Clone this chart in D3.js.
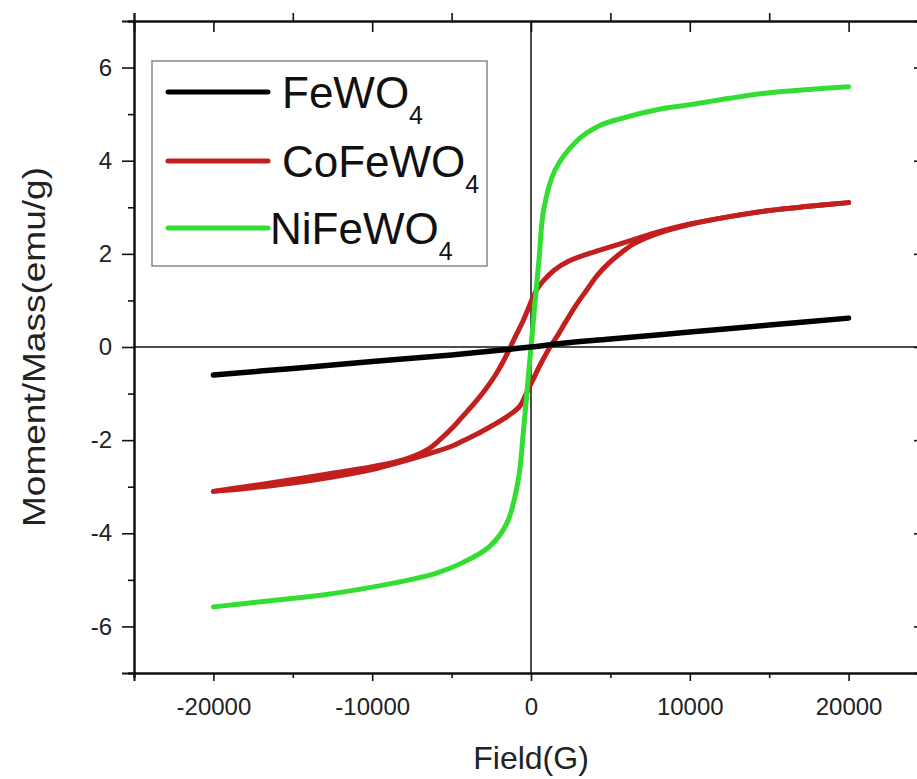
<!DOCTYPE html>
<html>
<head>
<meta charset="utf-8">
<script src="https://cdn.jsdelivr.net/npm/d3@7"></script>
<style>
  body { margin: 0; background: #fff; }
  svg { display: block; font-family: "Liberation Sans", Arial, sans-serif; }
</style>
</head>
<body>
<div id="chart"></div>
<script>
// FeWO4 - almost linear (paramagnetic)
const fieldFe = [-20000, -15000, -10000, -5000, -2000, 0, 2000, 5000, 10000, 15000, 20000];
const momentFe = [-0.6, -0.46, -0.31, -0.17, -0.07, 0, 0.08, 0.17, 0.32, 0.47, 0.62];

// CoFeWO4 - hysteresis loop, branch going down then branch going up
const fieldCoDown = [20000, 17500, 15000, 12500, 10000, 8000, 6500, 5000, 3500, 2300, 1500, 800, 400, 100, -200, -500, -900, -1300, -1700, -2200, -2800, -3400, -4200, -4900, -5700, -6500, -8000, -10000, -12700, -15800, -18000, -20000];
const momentCoDown = [3.1, 3.02, 2.93, 2.8, 2.64, 2.47, 2.31, 2.15, 1.99, 1.83, 1.66, 1.43, 1.25, 1.05, 0.8, 0.56, 0.28, 0, -0.28, -0.58, -0.88, -1.14, -1.45, -1.72, -1.98, -2.2, -2.42, -2.57, -2.72, -2.89, -3.0, -3.1];
const fieldCoUp = [-20000, -17500, -15000, -12500, -10000, -8000, -6500, -5000, -4200, -3400, -2600, -1800, -1200, -700, -300, 100, 600, 1200, 1700, 2200, 2800, 3500, 4200, 4900, 5700, 6500, 8000, 10000, 12500, 15000, 17500, 20000];
const momentCoUp = [-3.1, -3.02, -2.92, -2.79, -2.63, -2.45, -2.3, -2.13, -2.0, -1.87, -1.72, -1.56, -1.42, -1.27, -1.0, -0.72, -0.37, 0, 0.26, 0.55, 0.88, 1.22, 1.55, 1.8, 2.03, 2.22, 2.44, 2.63, 2.8, 2.93, 3.02, 3.1];

// NiFeWO4 - soft, steep around zero
const fieldNi = [-20000, -17000, -13000, -8500, -6000, -4300, -2600, -1500, -800, -500, -250, 0, 250, 500, 800, 1500, 2900, 4300, 5600, 8000, 10000, 12500, 15000, 17500, 20000];
const momentNi = [-5.58, -5.47, -5.32, -5.06, -4.86, -4.63, -4.28, -3.77, -2.85, -1.9, -0.95, 0, 0.95, 1.86, 2.95, 3.79, 4.43, 4.75, 4.9, 5.1, 5.2, 5.34, 5.46, 5.53, 5.59];

const xTicks = [-25000, -20000, -15000, -10000, -5000, 0, 5000, 10000, 15000, 20000, 25000];
const yTicks = [-7, -6, -5, -4, -3, -2, -1, 0, 1, 2, 3, 4, 5, 6, 7];

const seriesNames = ["FeWO", "CoFeWO", "NiFeWO"];
const seriesColors = ["#000000", "#c21f1f", "#33dd33"];

const width = 917, height = 779;
const frame = { left: 134, right: 928, top: 21, bottom: 673 };

const svg = d3.select("#chart").append("svg")
  .attr("width", width)
  .attr("height", height);

const x = d3.scaleLinear().domain([-25000, 25000]).range([frame.left, frame.right]);
const y = d3.scaleLinear().domain([-7, 7]).range([frame.bottom, frame.top]);

const isMajorX = (d) => d % 10000 === 0;
const isMajorY = (d) => d % 2 === 0;
const plain = (d) => `${d}`; // keep the ascii hyphen like the original

function styleAxis(g) {
  g.select(".domain").attr("stroke", "#111").attr("stroke-width", 2);
  g.selectAll(".tick line").attr("stroke", "#111").attr("stroke-width", 1.6);
  g.selectAll(".tick text").attr("fill", "#222").attr("font-size", 24)
    .attr("font-family", "\"Liberation Sans\", Arial, sans-serif");
}

// bottom axis
svg.append("g")
  .attr("transform", `translate(0,${frame.bottom})`)
  .call(d3.axisBottom(x).tickValues(xTicks.filter((d) => !isMajorX(d))).tickSize(5).tickFormat(""))
  .call(styleAxis);
svg.append("g")
  .attr("transform", `translate(0,${frame.bottom})`)
  .call(d3.axisBottom(x).tickValues(xTicks.filter(isMajorX)).tickSize(8).tickPadding(17).tickFormat(plain))
  .call(styleAxis);

// top axis: major ticks inside, minor ticks outside
svg.append("g")
  .attr("transform", `translate(0,${frame.top})`)
  .call(d3.axisBottom(x).tickValues(xTicks.filter(isMajorX)).tickSize(11).tickFormat(""))
  .call(styleAxis);
svg.append("g")
  .attr("transform", `translate(0,${frame.top})`)
  .call(d3.axisTop(x).tickValues(xTicks.filter((d) => !isMajorX(d))).tickSize(8).tickFormat(""))
  .call(styleAxis);

// left axis
svg.append("g")
  .attr("transform", `translate(${frame.left},0)`)
  .call(d3.axisLeft(y).tickValues(yTicks.filter((d) => !isMajorY(d))).tickSize(6).tickFormat(""))
  .call(styleAxis);
svg.append("g")
  .attr("transform", `translate(${frame.left},0)`)
  .call(d3.axisLeft(y).tickValues(yTicks.filter((d) => isMajorY(d) && Math.abs(d) < 7)).tickSize(12).tickPadding(10).tickFormat(plain))
  .call(styleAxis);

// right axis (mostly cut off by the picture edge)
svg.append("g")
  .attr("transform", `translate(${frame.right},0)`)
  .call(d3.axisLeft(y).tickValues(yTicks.filter((d) => isMajorY(d) && Math.abs(d) < 7)).tickSize(14).tickFormat(""))
  .call(styleAxis);

// zero lines
svg.append("line")
  .attr("x1", frame.left).attr("x2", frame.right)
  .attr("y1", y(0)).attr("y2", y(0))
  .attr("stroke", "#111").attr("stroke-width", 1.5);
svg.append("line")
  .attr("x1", x(0)).attr("x2", x(0))
  .attr("y1", frame.top).attr("y2", frame.bottom)
  .attr("stroke", "#111").attr("stroke-width", 1.5);

// curves
const line = d3.line()
  .x((d) => x(d[0]))
  .y((d) => y(d[1]))
  .curve(d3.curveCatmullRom.alpha(0.5));

const zip = (a, b) => a.map((v, i) => [v, b[i]]);

const curvesG = svg.append("g").attr("fill", "none")
  .attr("stroke-width", 5).attr("stroke-linecap", "round").attr("stroke-linejoin", "round");

curvesG.append("path")
  .attr("d", line(zip(fieldCoDown, momentCoDown)))
  .attr("stroke", seriesColors[1]);
curvesG.append("path")
  .attr("d", line(zip(fieldCoUp, momentCoUp)))
  .attr("stroke", seriesColors[1]);
curvesG.append("path")
  .attr("d", line(zip(fieldNi, momentNi)))
  .attr("stroke", seriesColors[2]);
curvesG.append("path")
  .attr("d", line(zip(fieldFe, momentFe)))
  .attr("stroke", seriesColors[0])
  .attr("stroke-width", 5.5);

// axis titles
svg.append("text")
  .attr("x", x(0))
  .attr("y", 769)
  .attr("text-anchor", "middle")
  .attr("font-size", 32)
  .attr("fill", "#222")
  .text("Field(G)");

svg.append("text")
  .attr("transform", `translate(45,${y(0)}) rotate(-90)`)
  .attr("text-anchor", "middle")
  .attr("font-size", 32)
  .attr("textLength", 360)
  .attr("lengthAdjust", "spacingAndGlyphs")
  .attr("fill", "#222")
  .text("Moment/Mass(emu/g)");

// legend
const legend = svg.append("g");
legend.append("rect")
  .attr("x", 152).attr("y", 61)
  .attr("width", 335).attr("height", 205)
  .attr("fill", "#fff")
  .attr("stroke", "#888")
  .attr("stroke-width", 1.5);

const rowY = [92, 161, 228];
const textX = [282, 282, 270];

seriesNames.forEach((name, i) => {
  legend.append("line")
    .attr("x1", 168).attr("x2", 268)
    .attr("y1", rowY[i]).attr("y2", rowY[i])
    .attr("stroke", seriesColors[i])
    .attr("stroke-width", 5)
    .attr("stroke-linecap", "round");
  const t = legend.append("text")
    .attr("x", textX[i])
    .attr("y", rowY[i] + 16)
    .attr("font-size", 44)
    .attr("fill", "#111")
    .text(name);
  t.append("tspan")
    .attr("font-size", 25)
    .attr("dy", 16)
    .text("4");
});
</script>
</body>
</html>
